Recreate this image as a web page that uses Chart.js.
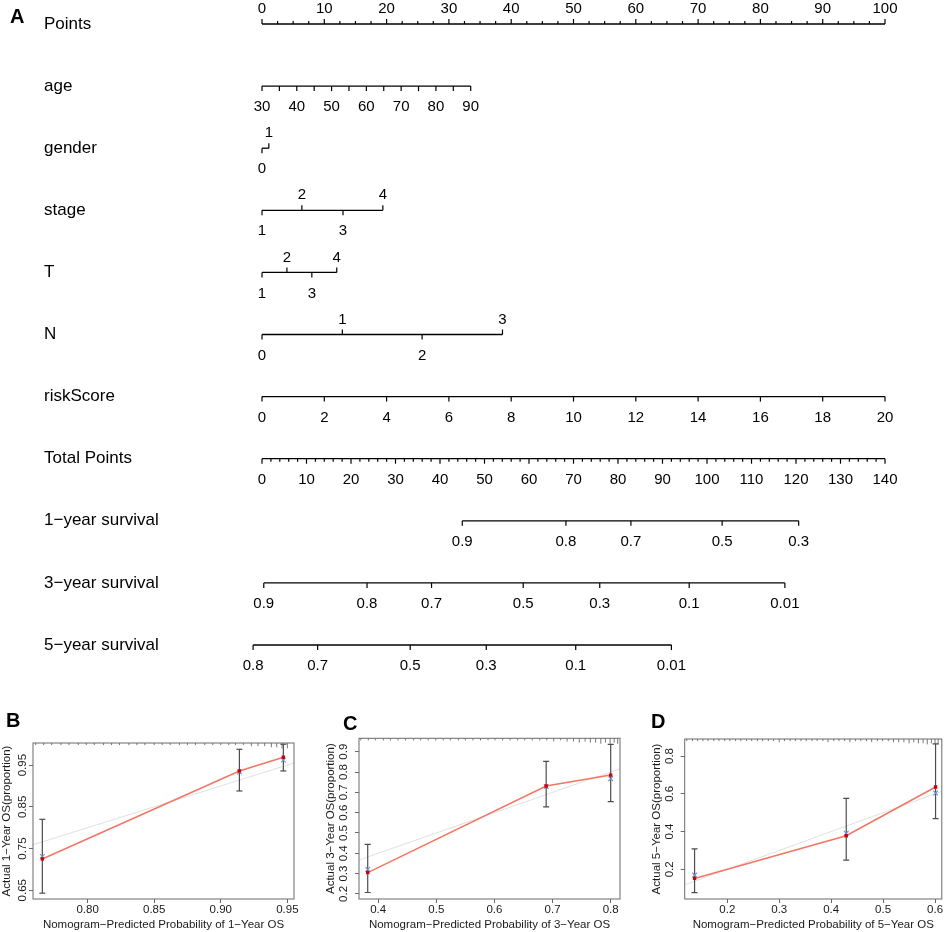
<!DOCTYPE html>
<html>
<head>
<meta charset="utf-8">
<title>Nomogram and calibration curves</title>
<script src="https://cdn.jsdelivr.net/npm/chart.js@4.4.1/dist/chart.umd.min.js"></script>
<style>
  html, body { margin: 0; padding: 0; background: #fff; }
  #fig { position: relative; width: 948px; height: 932px; overflow: hidden;
         font-family: 'Liberation Sans', Arial, Helvetica, sans-serif; }
  canvas { position: absolute; }
  .tag { position: absolute; font-weight: bold; font-size: 20px; line-height: 20px; color: #000; }
</style>
</head>
<body>
<div id="fig">
  <canvas id="nomo" width="948" height="690" style="left:0;top:0"></canvas>
  <canvas id="calB" width="310" height="242" style="left:0;top:690px"></canvas>
  <canvas id="calC" width="306" height="242" style="left:324px;top:690px"></canvas>
  <canvas id="calD" width="298" height="242" style="left:650px;top:690px"></canvas>
  <div class="tag" style="left:10px;top:6px">A</div>
  <div class="tag" style="left:6px;top:710px">B</div>
  <div class="tag" style="left:343px;top:713px">C</div>
  <div class="tag" style="left:651px;top:711px">D</div>
</div>
<script>
// ---- nomogram (panel A) ----
const rowNames = ['Points', 'age', 'gender', 'stage', 'T', 'N', 'riskScore', 'Total Points',
                  '1\u2212year survival', '3\u2212year survival', '5\u2212year survival'];

const pointsLabels = [0, 10, 20, 30, 40, 50, 60, 70, 80, 90, 100];
const ageLabels = [30, 40, 50, 60, 70, 80, 90];
const agePointsAtMax = 33.5;          // points given to age 90 (age 30 = 0)
const genderLevels = ['0', '1'];
const genderPoints = [0, 1.1];
const stageLevels = ['1', '2', '3', '4'];
const stagePoints = [0, 6.4, 13.0, 19.4];
const tLevels = ['1', '2', '3', '4'];
const tPoints = [0, 4.0, 8.0, 12.0];
const nLevels = ['0', '1', '2', '3'];
const nPoints = [0, 12.9, 25.7, 38.6];
const riskLabels = [0, 2, 4, 6, 8, 10, 12, 14, 16, 18, 20];
const totalLabels = [0, 10, 20, 30, 40, 50, 60, 70, 80, 90, 100, 110, 120, 130, 140];
const surv1Labels = ['0.9', '0.8', '0.7', '0.5', '0.3'];
const surv1Total = [45.0, 68.3, 82.9, 103.4, 120.6];
const surv3Labels = ['0.9', '0.8', '0.7', '0.5', '0.3', '0.1', '0.01'];
const surv3Total = [0.4, 23.6, 38.1, 58.7, 75.9, 96.0, 117.5];
const surv5Labels = ['0.8', '0.7', '0.5', '0.3', '0.1', '0.01'];
const surv5Total = [-2.0, 12.5, 33.3, 50.4, 70.5, 92.0];

const maxPoints = 100, maxTotal = 140;
const totalToPoints = t => t * maxPoints / maxTotal;

// every row is a list of ticks {x (in points), label, up, len}
const nomoRows = [];

let ticks = [];
for (let v = 0; v <= maxPoints; v += 2.5) {
  const lab = pointsLabels.includes(v);
  ticks.push({ x: v, label: lab ? String(v) : '', up: true, len: lab ? 5 : 3 });
}
nomoRows.push(ticks);

ticks = [];
const ageMin = ageLabels[0], ageMax = ageLabels[ageLabels.length - 1];
for (let a = ageMin; a <= ageMax; a += 5) {
  ticks.push({ x: (a - ageMin) / (ageMax - ageMin) * agePointsAtMax,
               label: ageLabels.includes(a) ? String(a) : '', up: false, len: 5 });
}
nomoRows.push(ticks);

function levelRow(levels, pts) {
  return levels.map((lv, i) => ({ x: pts[i], label: lv, up: i % 2 === 1, len: 5 }));
}
nomoRows.push(levelRow(genderLevels, genderPoints));
nomoRows.push(levelRow(stageLevels, stagePoints));
nomoRows.push(levelRow(tLevels, tPoints));
nomoRows.push(levelRow(nLevels, nPoints));

nomoRows.push(riskLabels.map(v => ({ x: v / 20 * maxPoints, label: String(v), up: false, len: 5 })));

ticks = [];
for (let t = 0; t <= maxTotal; t += 2) {
  const lab = totalLabels.includes(t);
  ticks.push({ x: totalToPoints(t), label: lab ? String(t) : '', up: false, len: lab ? 5 : 3 });
}
nomoRows.push(ticks);

function survRow(labels, totals) {
  return labels.map((l, i) => ({ x: totalToPoints(totals[i]), label: l, up: false, len: 5 }));
}
nomoRows.push(survRow(surv1Labels, surv1Total));
nomoRows.push(survRow(surv3Labels, surv3Total));
nomoRows.push(survRow(surv5Labels, surv5Total));

const nomoDatasets = [];
nomoRows.forEach((row, r) => {
  const xs = row.map(t => t.x);
  nomoDatasets.push({
    type: 'line',
    data: [{ x: Math.min(...xs), y: r }, { x: Math.max(...xs), y: r }],
    borderColor: '#000', borderWidth: 1.3, pointRadius: 0
  });
  nomoDatasets.push({
    type: 'scatter',
    data: row.map(t => ({ x: t.x, y: r, up: t.up, len: t.len })),
    pointStyle: 'dash',
    pointRotation: c => (c.raw && c.raw.up ? 270 : 90),
    pointRadius: c => (c.raw ? c.raw.len : 0),
    pointHoverRadius: c => (c.raw ? c.raw.len : 0),
    borderColor: '#000', pointBorderColor: '#000', pointBorderWidth: 1.2
  });
});

// tick texts of the nomogram rows
const nomoLabels = {
  id: 'nomoLabels',
  afterDatasetsDraw(chart) {
    const { ctx, scales: { x, y } } = chart;
    ctx.save();
    ctx.font = "15px 'Liberation Sans', Arial, sans-serif";
    ctx.fillStyle = '#000';
    ctx.textAlign = 'center';
    ctx.textBaseline = 'middle';
    nomoRows.forEach((row, r) => {
      const py = y.getPixelForValue(r);
      row.forEach(t => {
        if (!t.label) return;
        ctx.fillText(t.label, x.getPixelForValue(t.x), t.up ? py - 15 : py + 21);
      });
    });
    ctx.restore();
  }
};

Chart.defaults.font.family = "'Liberation Sans', Arial, Helvetica, sans-serif";
Chart.defaults.color = '#000';

new Chart(document.getElementById('nomo'), {
  type: 'scatter',
  data: { datasets: nomoDatasets },
  options: {
    responsive: false,
    animation: false,
    events: [],
    layout: { padding: { left: 44, right: 8, top: 12, bottom: 12 } },
    plugins: { legend: { display: false }, tooltip: { enabled: false } },
    scales: {
      x: { type: 'linear', display: false, min: -1.9262, max: 108.828 },
      y: {
        type: 'linear', reverse: true, min: -0.19324, max: 10.5314,
        afterBuildTicks: s => { s.ticks = rowNames.map((_, i) => ({ value: i })); },
        afterFit: s => { s.width = 206; },
        ticks: { callback: v => rowNames[v], crossAlign: 'far', autoSkip: false,
                 font: { size: 17 }, color: '#000', padding: 0 },
        grid: { display: false },
        border: { display: false }
      }
    }
  },
  plugins: [nomoLabels]
});

// ---- calibration curves (panels B, C, D) ----
const bPred = [0.766, 0.914, 0.947];
const bObs = [0.725, 0.936, 0.969];
const bCorr = [0.731, 0.933, 0.962];
const bLow = [0.643, 0.888, 0.936];
const bHigh = [0.820, 0.988, 1.000];
const bXTicks = ['0.80', '0.85', '0.90', '0.95'];
const bYTicks = ['0.65', '0.75', '0.85', '0.95'];
const bRug = [0.761, 0.767, 0.773, 0.780, 0.786, 0.793, 0.799, 0.805, 0.812, 0.818, 0.824, 0.831,
              0.837, 0.843, 0.850, 0.856, 0.862, 0.869, 0.875, 0.881, 0.888, 0.894, 0.900, 0.906,
              0.911, 0.917, 0.923, 0.928, 0.933, 0.938, 0.942, 0.946, 0.950];
const bRugN = [1, 1, 1, 1, 1, 1, 1, 1, 1, 1, 1, 1, 1, 1, 1, 1, 1, 1, 1, 1, 1, 1, 1, 1,
               1, 1, 2, 2, 2, 3, 3, 4, 4];

const cPred = [0.382, 0.689, 0.800];
const cObs = [0.305, 0.731, 0.785];
const cCorr = [0.321, 0.728, 0.767];
const cLow = [0.207, 0.628, 0.654];
const cHigh = [0.444, 0.852, 0.936];
const cXTicks = ['0.4', '0.5', '0.6', '0.7', '0.8'];
const cYTicks = ['0.2', '0.3', '0.4', '0.5', '0.6', '0.7', '0.8', '0.9'];
const cRug = [0.370, 0.383, 0.395, 0.409, 0.421, 0.434, 0.447, 0.461, 0.473, 0.486, 0.499, 0.512,
              0.524, 0.538, 0.550, 0.563, 0.576, 0.589, 0.601, 0.614, 0.627, 0.640, 0.652, 0.665,
              0.678, 0.690, 0.702, 0.714, 0.725, 0.736, 0.746, 0.756, 0.765, 0.774, 0.783, 0.791,
              0.799, 0.806, 0.812];
const cRugN = [1, 1, 1, 1, 1, 1, 1, 1, 1, 1, 1, 1, 1, 1, 1, 1, 1, 1, 1, 1, 1, 1, 1, 1,
               1, 1, 2, 1, 2, 2, 3, 2, 3, 3, 4, 3, 4, 3, 4];

const dPred = [0.137, 0.429, 0.601];
const dObs = [0.152, 0.378, 0.636];
const dCorr = [0.170, 0.391, 0.604];
const dLow = [0.077, 0.249, 0.468];
const dHigh = [0.308, 0.576, 0.864];
const dXTicks = ['0.2', '0.3', '0.4', '0.5', '0.6'];
const dYTicks = ['0.2', '0.4', '0.6', '0.8'];
const dRug = [0.122, 0.133, 0.143, 0.153, 0.163, 0.174, 0.184, 0.195, 0.205, 0.216, 0.226, 0.237,
              0.247, 0.258, 0.268, 0.279, 0.289, 0.300, 0.310, 0.321, 0.331, 0.342, 0.352, 0.363,
              0.373, 0.384, 0.394, 0.405, 0.415, 0.426, 0.436, 0.447, 0.457, 0.468, 0.478, 0.489,
              0.499, 0.510, 0.520, 0.530, 0.540, 0.550, 0.559, 0.568, 0.577, 0.585, 0.593, 0.600,
              0.606];
const dRugN = [1, 1, 1, 1, 1, 1, 1, 1, 1, 1, 1, 1, 1, 1, 1, 1, 1, 2, 1, 1, 1, 1, 1, 1,
               1, 1, 2, 1, 1, 1, 2, 1, 1, 1, 2, 1, 1, 1, 2, 2, 2, 3, 2, 3, 3, 4, 3, 4, 4];

// frame around the plotting region, like R's box()
const frame = {
  id: 'frame',
  afterDatasetsDraw(chart) {
    const { ctx, chartArea: a } = chart;
    ctx.save();
    ctx.strokeStyle = '#6a6a6a';
    ctx.lineWidth = 1;
    ctx.strokeRect(a.left, a.top, a.width, a.height);
    ctx.restore();
  }
};

function calibrationChart(id, d) {
  const errBars = [];
  d.pred.forEach((x, i) => {
    errBars.push({ x, y: d.low[i] }, { x, y: d.high[i] }, { x, y: null });
  });
  const [x0, x1] = d.xRange, [y0, y1] = d.yRange;
  return new Chart(document.getElementById(id), {
    type: 'scatter',
    data: {
      datasets: [
        { label: 'observed', data: d.pred.map((x, i) => ({ x, y: d.obs[i] })),
          pointStyle: 'rect', pointRadius: 2.4, pointHoverRadius: 2.4,
          backgroundColor: '#d00000', borderColor: '#d00000', borderWidth: 0 },
        { label: 'bias-corrected', data: d.pred.map((x, i) => ({ x, y: d.corr[i] })),
          pointStyle: 'crossRot', pointRadius: 3.2, pointHoverRadius: 3.2,
          borderColor: '#6f8ed4', pointBorderColor: '#6f8ed4', pointBorderWidth: 1.1 },
        { type: 'line', label: 'apparent', data: d.pred.map((x, i) => ({ x, y: d.obs[i] })),
          borderColor: '#f27663', borderWidth: 1.5, pointRadius: 0 },
        { type: 'line', label: 'CI', data: errBars, spanGaps: false,
          borderColor: '#4d4d4d', borderWidth: 1.2,
          pointStyle: 'line', pointRadius: 3, pointHoverRadius: 3,
          pointBorderColor: '#4d4d4d', pointBorderWidth: 1.2 },
        { type: 'line', label: 'ideal', data: [{ x: x0, y: x0 }, { x: x1, y: x1 }],
          borderColor: '#e0e0e0', borderWidth: 1, pointRadius: 0 },
        { label: 'rug', data: d.rug.map((x, i) => ({ x, y: y1, n: d.rugN[i] })),
          pointStyle: 'dash', pointRotation: 90,
          pointRadius: c => (c.raw ? 1 + 1.1 * c.raw.n : 0),
          pointHoverRadius: c => (c.raw ? 1 + 1.1 * c.raw.n : 0),
          borderColor: '#555', pointBorderColor: '#555', pointBorderWidth: 0.8 }
      ]
    },
    options: {
      responsive: false,
      animation: false,
      events: [],
      layout: { padding: { left: 0, top: d.top, right: d.right, bottom: 0 } },
      plugins: { legend: { display: false }, tooltip: { enabled: false } },
      scales: {
        x: {
          type: 'linear', min: x0, max: x1,
          afterBuildTicks: s => { s.ticks = d.xTicks.map(v => ({ value: parseFloat(v) })); },
          afterFit: s => { s.height = 33; },
          ticks: { callback: (v, i) => d.xTicks[i], autoSkip: false, maxRotation: 0,
                   padding: 0, font: { size: 11.5 }, color: '#1a1a1a' },
          grid: { drawOnChartArea: false, tickLength: 4, tickColor: '#6a6a6a', tickWidth: 1 },
          border: { display: false },
          title: { display: true, text: d.xTitle, font: { size: 11.5 }, color: '#1a1a1a',
                   padding: { top: 0, bottom: 0 } }
        },
        y: {
          type: 'linear', min: y0, max: y1,
          afterBuildTicks: s => { s.ticks = d.yTicks.map(v => ({ value: parseFloat(v) })); },
          afterFit: s => { s.width = d.yWidth; },
          ticks: { callback: (v, i) => d.yTicks[i], autoSkip: false, minRotation: 90, maxRotation: 90,
                   crossAlign: 'center', padding: d.yPad, font: { size: 11.5 }, color: '#1a1a1a' },
          grid: { drawOnChartArea: false, tickLength: 4, tickColor: '#6a6a6a', tickWidth: 1 },
          border: { display: false },
          title: { display: true, text: d.yTitle, font: { size: 11.5 }, color: '#1a1a1a',
                   padding: { top: 0, bottom: 0 } }
        }
      }
    },
    plugins: [frame]
  });
}

calibrationChart('calB', {
  pred: bPred, obs: bObs, corr: bCorr, low: bLow, high: bHigh,
  xTicks: bXTicks, yTicks: bYTicks, rug: bRug, rugN: bRugN,
  xRange: [0.759, 0.955], yRange: [0.629, 1.003],
  xTitle: 'Nomogram\u2212Predicted Probability of 1\u2212Year OS',
  yTitle: 'Actual 1\u2212Year OS(proportion)',
  top: 53, right: 16, yWidth: 33, yPad: -5.5
});
calibrationChart('calC', {
  pred: cPred, obs: cObs, corr: cCorr, low: cLow, high: cHigh,
  xTicks: cXTicks, yTicks: cYTicks, rug: cRug, rugN: cRugN,
  xRange: [0.367, 0.816], yRange: [0.175, 0.966],
  xTitle: 'Nomogram\u2212Predicted Probability of 3\u2212Year OS',
  yTitle: 'Actual 3\u2212Year OS(proportion)',
  top: 48.3, right: 10, yWidth: 35, yPad: 2.7
});
calibrationChart('calD', {
  pred: dPred, obs: dObs, corr: dCorr, low: dLow, high: dHigh,
  xTicks: dXTicks, yTicks: dYTicks, rug: dRug, rugN: dRugN,
  xRange: [0.118, 0.613], yRange: [0.043, 0.89],
  xTitle: 'Nomogram\u2212Predicted Probability of 5\u2212Year OS',
  yTitle: 'Actual 5\u2212Year OS(proportion)',
  top: 49, right: 5, yWidth: 34.7, yPad: 2.7
});
</script>
</body>
</html>
